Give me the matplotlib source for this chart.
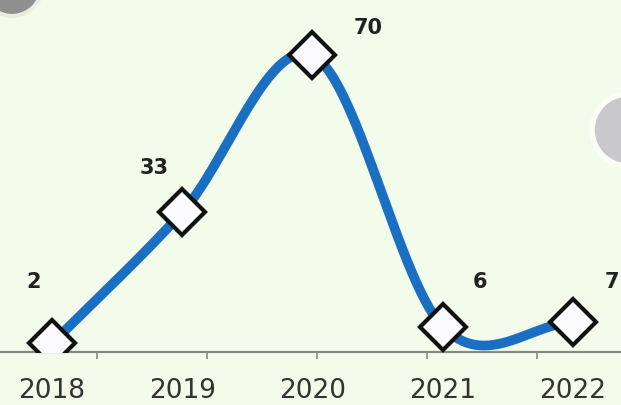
import numpy as np
import matplotlib.pyplot as plt
from matplotlib.patches import Ellipse

years = ['2018', '2019', '2020', '2021', '2022']
values = [2, 33, 70, 6, 7]
# label offsets in points (dx, dy) from each marker
label_offsets = [(-13, 44), (-20, 32), (40, 20), (27, 32), (28, 29)]


def catmull_rom(x, y, n=60):
    x = np.asarray(x, float)
    y = np.asarray(y, float)
    m = np.zeros_like(y)
    m[1:-1] = (y[2:] - y[:-2]) / (x[2:] - x[:-2])
    m[0] = (y[1] - y[0]) / (x[1] - x[0])
    m[-1] = (y[-1] - y[-2]) / (x[-1] - x[-2])
    xs, ys = [], []
    for i in range(len(x) - 1):
        h = x[i + 1] - x[i]
        t = np.linspace(0, 1, n)
        h00 = 2 * t**3 - 3 * t**2 + 1
        h10 = t**3 - 2 * t**2 + t
        h01 = -2 * t**3 + 3 * t**2
        h11 = t**3 - t**2
        xs.append(x[i] + t * h)
        ys.append(h00 * y[i] + h10 * h * m[i] + h01 * y[i + 1] + h11 * h * m[i + 1])
    return np.concatenate(xs), np.concatenate(ys)


bg = '#f3fbea'
fig = plt.figure(figsize=(6.21, 4.05), dpi=100, facecolor=bg)
ax = fig.add_axes([0, 0.131, 1, 0.869])
ax.set_facecolor(bg)

x = np.arange(len(years))
sx, sy = catmull_rom(x, values)
ax.plot(sx, sy, color='#1b6fc2', lw=7, solid_capstyle='round', zorder=2)
ax.plot(x, values, linestyle='none', marker='D', markersize=23.5,
        markerfacecolor='#fbfbff', markeredgecolor='#111111', markeredgewidth=3, zorder=3)

for xi, v, (dx, dy) in zip(x, values, label_offsets):
    ax.annotate(str(v), (xi, v), xytext=(dx, dy), textcoords='offset points',
                ha='center', va='center', fontsize=15, fontweight='bold', color='#222222')

ax.set_xlim(-0.4, 4.37)
ax.set_ylim(0, 83.1)
for s in ['top', 'right', 'left']:
    ax.spines[s].set_visible(False)
ax.spines['bottom'].set_color('#8a8a84')
ax.spines['bottom'].set_linewidth(1.6)
ax.set_yticks([])
ax.set_xticks(x)
ax.set_xticklabels(years, fontsize=19, color='#333333')
ax.tick_params(axis='x', which='major', length=0, pad=19)
ax.set_xticks(0.345 + 0.845 * np.arange(5), minor=True)
ax.tick_params(axis='x', which='minor', length=5, width=1.2, color='#8a8a84')

# decorative circles (sizes in pixels converted to figure fractions)
W, H = 621, 405
fig.patches.append(Ellipse((12 / W, 1 + 14 / H), 2 * 30 / W, 2 * 30 / H, transform=fig.transFigure,
                           facecolor='#8f8f8f', edgecolor='#e8ede0', linewidth=3, zorder=0))
fig.patches.append(Ellipse((628 / W, 1 - 130 / H), 2 * 36 / W, 2 * 36 / H, transform=fig.transFigure,
                           facecolor='#c9c9cc', edgecolor='#fbfdf6', linewidth=4, zorder=0))

fig.savefig('out.png', dpi=100, facecolor=bg)
